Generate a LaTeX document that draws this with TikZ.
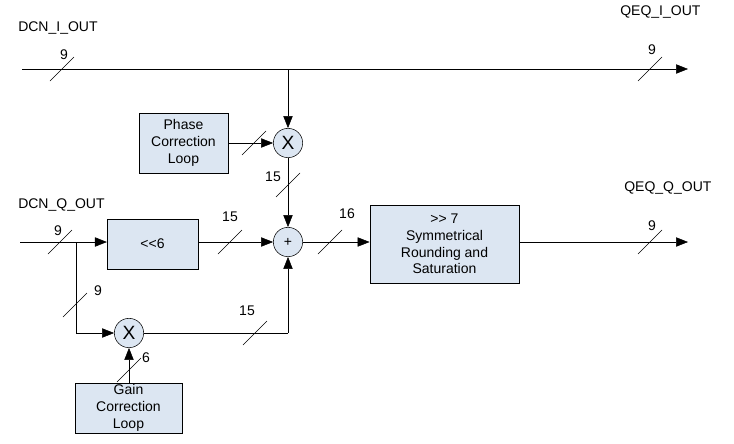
\documentclass[tikz,border=0pt]{standalone}
\usepackage{fontspec}
\setmainfont{Liberation Sans}
\usetikzlibrary{arrows.meta}
\definecolor{boxfill}{HTML}{DCE6F2}
\begin{document}
\begin{tikzpicture}[x=0.75pt,y=-0.75pt,font=\fontsize{10.5}{12.5}\selectfont,
  box/.style={draw,fill=boxfill,align=center,inner sep=0pt},
  op/.style={draw,circle,fill=boxfill,minimum size=22pt,inner sep=0pt},
  arr/.style={-{Triangle[length=9pt,width=7pt]}},
  lab/.style={inner sep=0pt}]
\useasboundingbox (0,0) rectangle (734,443);
% nodes
\node[box,minimum width=67pt,minimum height=45pt] (ph) at (183.5,143) {Phase\\Correction\\Loop};
\node[op] (x1) at (288,143) {\Large X};
\node[op] (add) at (288,242) {+};
\node[box,minimum width=68pt,minimum height=37.5pt] (sh) at (152.5,244) {{<}{<}6};
\node[box,minimum width=112pt,minimum height=58.5pt] (sat) at (444.5,244) {{>}{>} 7\\Symmetrical\\Rounding and\\Saturation};
\node[op] (x2) at (129,333) {\Large X};
\node[box,minimum width=80pt,minimum height=37.5pt] (gn) at (128.5,408) {Gain\\Correction\\Loop};
\coordinate (iin) at (22,69);
\coordinate (iout) at (688,69);
\coordinate (ib) at (288,69);
\coordinate (qin) at (20,242);
\coordinate (qb) at (76,242);
\coordinate (qout) at (688,242);
\coordinate (cr) at (288,333);
% connectors
\draw[arr] (iin) -- (iout);
\draw[arr] (ib) -- (x1);
\draw[arr] (ph) -- (x1);
\draw[arr] (x1) -- (add);
\draw[arr] (qin) -- (sh.west |- qin);
\draw[arr] (sh.east |- qin) -- (add);
\draw[arr] (qb) |- (x2);
\draw (x2) -- (cr);
\draw[arr] (cr) -- (add);
\draw[arr] (gn.north -| x2) -- (x2);
\draw[arr] (add) -- (sat.west |- add);
\draw[arr] (sat.east |- qout) -- (qout);
% bus slashes
\foreach \x/\y in {62/69,650/69,254/143,288/185,60/242,230/242,330/242,650/242,75/305,255/333,129/370}
  \draw (\x-12,\y+12) -- (\x+12,\y-12);
% labels
\node[lab] (l1) at (64,55) {9};
\node[lab] (l2) at (652,50) {9};
\node[lab] (l3) at (273,177) {15};
\node[lab] (l4) at (58,231) {9};
\node[lab] (l5) at (230,217) {15};
\node[lab] (l6) at (347,214) {16};
\node[lab] (l7) at (652,226) {9};
\node[lab] (l8) at (98,291) {9};
\node[lab] (l9) at (247,311) {15};
\node[lab] (l10) at (146,358) {6};
\node[lab,anchor=west] (t1) at (18,28) {DCN\_I\_OUT};
\node[lab,anchor=west] (t2) at (620,12) {QEQ\_I\_OUT};
\node[lab,anchor=west] (t3) at (18,205) {DCN\_Q\_OUT};
\node[lab,anchor=west] (t4) at (624,188) {QEQ\_Q\_OUT};
\end{tikzpicture}
\end{document}
